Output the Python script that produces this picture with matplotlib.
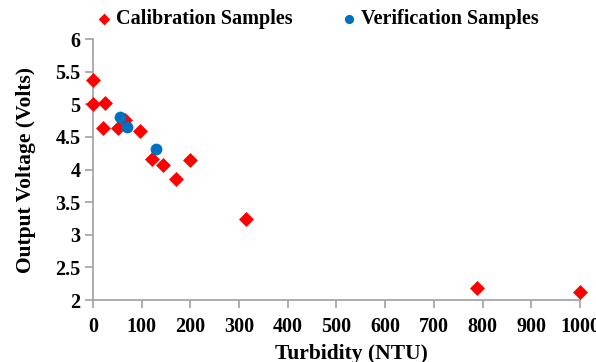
import matplotlib
matplotlib.use("Agg")
import matplotlib.pyplot as plt

plt.rcParams['font.family'] = ['Liberation Serif', 'DejaVu Serif']
plt.rcParams['font.weight'] = 'bold'

# calibration samples
cal_ntu = [0, 0, 25, 20, 51, 66, 97, 121, 144, 170, 199, 314, 788, 1000]
cal_volts = [5.38, 5.0, 5.02, 4.64, 4.64, 4.76, 4.59, 4.16, 4.07, 3.86, 4.14, 3.24, 2.18, 2.13]
# verification samples
ver_ntu = [55, 70, 129]
ver_volts = [4.80, 4.65, 4.31]

x_ticks = list(range(0, 1001, 100))
y_ticks = [2, 2.5, 3, 3.5, 4, 4.5, 5, 5.5, 6]

fs = 14.5

fig = plt.figure(figsize=(5.96, 3.62), dpi=100)
ax = fig.add_axes([0.156, 0.171, 0.817, 0.721])

ax.scatter(cal_ntu, cal_volts, marker='D', s=58, color='#ff0000', linewidths=0,
           label='Calibration Samples', zorder=3, clip_on=False)
ax.scatter(ver_ntu, ver_volts, marker='o', s=72, color='#0070c0', linewidths=0,
           label='Verification Samples', zorder=4, clip_on=False)

ax.set_xlim(0, 1000)
ax.set_ylim(2, 6)
ax.set_xticks(x_ticks)
ax.set_yticks(y_ticks)
ax.set_xticklabels([str(v) for v in x_ticks], fontsize=fs, fontweight='bold')
ax.set_yticklabels([('%g' % v) for v in y_ticks], fontsize=fs, fontweight='bold')

for s in ['top', 'right']:
    ax.spines[s].set_visible(False)
for s in ['left', 'bottom']:
    ax.spines[s].set_color('#a0a0a0')
    ax.spines[s].set_linewidth(1.2)
ax.tick_params(axis='both', colors='#a0a0a0', length=6, width=1.2, labelcolor='black')
ax.tick_params(axis='x', pad=6)
ax.tick_params(axis='y', pad=3)

ax.set_xlabel('Turbidity (NTU)', fontsize=15.5, fontweight='bold')
ax.xaxis.set_label_coords(0.53, -0.168)
ax.set_ylabel('Output Voltage (Volts)', fontsize=15.5, fontweight='bold', labelpad=14)

ax.legend(loc='lower center', bbox_to_anchor=(0.448, 0.97), ncol=2, frameon=False,
          handletextpad=-0.4, columnspacing=1.8, markerscale=0.78,
          prop={'weight': 'bold', 'size': fs})

fig.savefig('out.png', dpi=100)
